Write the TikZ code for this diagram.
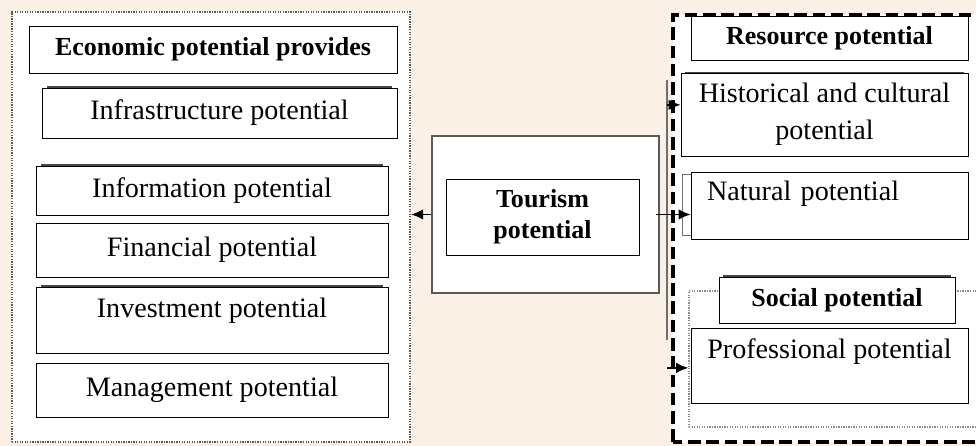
\documentclass[tikz,border=0pt]{standalone}
\usepackage{fontspec}
\setmainfont{Liberation Serif}
\usetikzlibrary{arrows.meta,shadows}

\begin{document}
\begin{tikzpicture}[
  box/.style={draw=boxcolor,line width=0.6pt,fill=fillcolor,inner sep=0pt,font=\fontsize{20}{26.5}\selectfont},
  headbox/.style={box,font=\fontsize{18.5}{22}\selectfont\bfseries},
  backshadow/.style={general shadow={fill=shadowcolor,shadow scale=0.97,shadow yshift=0.07cm}},
  dotframe/.style={draw=framecolor,line width=1.6pt,dash pattern=on 0.9pt off 0.9pt,fill=fillcolor,inner sep=0pt},
  dashframe/.style={draw=boxcolor,line width=2.4pt,dash pattern=on 9pt off 4pt,fill=fillcolor},
  link/.style={draw=boxcolor,line width=0.9pt,-{Latex[length=3mm,width=2.6mm]}}]
\definecolor{fillcolor}{RGB}{255,255,255}
\definecolor{boxcolor}{RGB}{0,0,0}
\definecolor{framecolor}{RGB}{90,90,90}
\definecolor{shadowcolor}{RGB}{70,70,70}
\definecolor{buscolor}{RGB}{110,110,110}
\definecolor{background}{RGB}{250,240,230}
\useasboundingbox (0,0) rectangle (24.4,11.15);
\clip (0,0) rectangle (24.4,11.15);
\fill [background] (0,0) rectangle (24.4,11.15);
% economic side
\node [dotframe,minimum width=9.95cm,minimum height=10.75cm] (econframe) at (5.275,5.475) {};
\node [headbox,minimum width=9.2cm,minimum height=1.175cm] (econhead) at (5.325,9.9125) {Economic potential provides};
\node [box,backshadow,minimum width=8.875cm,minimum height=1.25cm] (infra) at (5.4875,8.325) {Infrastructure potential};
\node [box,backshadow,minimum width=8.8cm,minimum height=1.225cm] (info) at (5.3,6.3875) {Information potential};
\node [box,minimum width=8.8cm,minimum height=1.35cm] (finance) at (5.3,4.9) {Financial potential};
\node [box,backshadow,minimum width=8.8cm,minimum height=1.65cm,text depth=0.6cm] (invest) at (5.3,3.15) {Investment potential};
\node [box,minimum width=8.8cm,minimum height=1.35cm] (manage) at (5.3,1.4) {Management potential};
% tourism
\node [draw=framecolor,line width=1.2pt,fill=fillcolor,minimum width=5.675cm,minimum height=3.925cm] (tourframe) at (13.6375,5.7875) {};
\node [headbox,align=center,minimum width=4.825cm,minimum height=1.9cm] (tourism) at (13.5625,5.725) {Tourism\\potential};
% resource side
\draw [dashframe] (16.825,0.10) rectangle (25.0,10.775);
\node [headbox,minimum width=6.925cm,minimum height=1.1cm] (reshead) at (20.7375,10.2) {Resource potential};
\node [box,backshadow,align=center,minimum width=7.175cm,minimum height=2.075cm] (hist) at (20.6125,8.2875) {Historical and cultural\\potential};
\node [box,align=left,text width=6.125cm,inner xsep=0.4cm,minimum height=1.675cm,text depth=0.75cm] (natural) at (20.7375,6.0125) {Natural potential};
\draw [buscolor,thick] ([yshift=-0.075cm]natural.north west) -- ++(-0.2,0) |- ([yshift=0.1cm]natural.south west);
% social
\node [dotframe,line width=1.1pt,draw=framecolor!70,minimum width=7.775cm,minimum height=3.4cm] (socframe) at (21.1125,2.175) {};
\node [headbox,backshadow,minimum width=5.9cm,minimum height=1.15cm] (sochead) at (20.925,3.65) {Social potential};
\node [box,minimum width=6.925cm,minimum height=1.875cm,text depth=0.85cm] (prof) at (20.7375,2.0125) {Professional potential};
% links
\coordinate (bustop) at (16.675,9.15);
\coordinate (busbot) at (16.675,2.65);
\draw [buscolor,line width=1.2pt] (bustop) -- (busbot);
\coordinate (histin) at ([yshift=0.24cm]hist.west);
\coordinate (profin) at ([yshift=-0.06cm]prof.west);
\draw [link] (tourframe.west) -- (tourframe.west -| econframe.east);
\draw [link] ([xshift=-0.1cm]tourframe.east) -- (tourframe.east -| natural.west);
\draw [link] (histin -| bustop) -- (histin);
\draw [link] (profin -| bustop) -- (profin -| socframe.west);
\end{tikzpicture}
\end{document}
